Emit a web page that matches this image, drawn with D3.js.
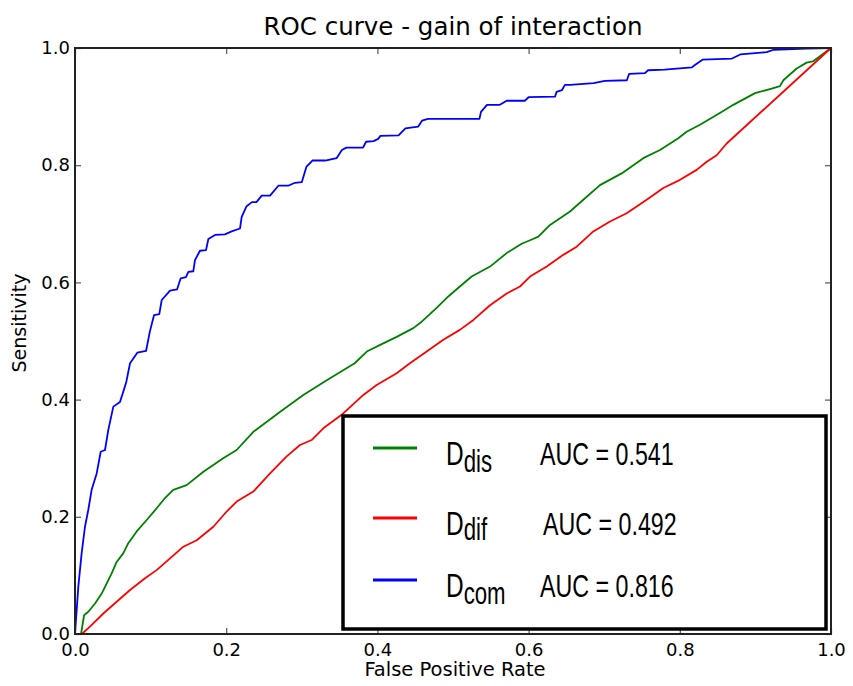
<!DOCTYPE html>
<html>
<head>
<meta charset="utf-8">
<script src="https://cdn.jsdelivr.net/npm/d3@7"></script>
<style>
    body { margin: 0; background: #fff; }
    #roc-chart { width: 853px; height: 686px; }
    text { font-family: "DejaVu Sans", sans-serif; fill: #000; }
    .legend-text { font-family: "Liberation Sans", Arial, sans-serif; }
</style>
</head>
<body>
<div id="roc-chart"></div>
<script>

// D_com (blue)
let comFpr = [0, 0.0044, 0.0088, 0.0132, 0.0176, 0.022, 0.0287, 0.034, 0.0397, 0.044, 0.0507, 0.0595, 0.064, 0.068,
    0.0728, 0.0824, 0.094, 0.099, 0.1045, 0.1115, 0.1147, 0.1257, 0.135, 0.1398, 0.1468, 0.1499, 0.1565, 0.1587,
    0.1653, 0.1733, 0.1764, 0.1852, 0.1984, 0.2072, 0.2183, 0.2205, 0.227, 0.234, 0.240, 0.247, 0.258, 0.269, 0.282,
    0.291, 0.300, 0.306, 0.314, 0.331, 0.346, 0.353, 0.359, 0.381, 0.385, 0.395, 0.401, 0.404, 0.428, 0.437, 0.454,
    0.459, 0.467, 0.535, 0.537, 0.545, 0.562, 0.571, 0.595, 0.600, 0.635, 0.637, 0.644, 0.648, 0.655, 0.686, 0.701,
    0.730, 0.733, 0.754, 0.758, 0.780, 0.816, 0.820, 0.830, 0.849, 0.869, 0.880, 0.915, 0.924, 0.968, 1];
let comTpr = [0, 0.081, 0.138, 0.183, 0.212, 0.246, 0.274, 0.311, 0.314, 0.348, 0.388, 0.396, 0.414, 0.431,
    0.462, 0.480, 0.483, 0.516, 0.544, 0.546, 0.570, 0.586, 0.588, 0.607, 0.609, 0.618, 0.619, 0.638,
    0.654, 0.655, 0.674, 0.681, 0.682, 0.687, 0.692, 0.712, 0.730, 0.737, 0.737, 0.748, 0.748, 0.765, 0.765,
    0.770, 0.771, 0.797, 0.808, 0.808, 0.812, 0.826, 0.830, 0.830, 0.840, 0.841, 0.845, 0.850, 0.851, 0.863, 0.866,
    0.876, 0.879, 0.879, 0.891, 0.903, 0.903, 0.910, 0.910, 0.916, 0.917, 0.925, 0.928, 0.937, 0.937, 0.940, 0.944,
    0.945, 0.956, 0.957, 0.962, 0.963, 0.967, 0.971, 0.980, 0.981, 0.982, 0.989, 0.993, 0.997, 0.999, 1];

// D_dis (green)
let disFpr = [0, 0.008, 0.012, 0.0176, 0.0265, 0.0353, 0.042, 0.0485, 0.0551, 0.064, 0.0705, 0.0816, 0.0948, 0.108,
    0.119, 0.130, 0.1477, 0.1698, 0.196, 0.2138, 0.2359, 0.271, 0.302, 0.333, 0.370, 0.386, 0.403, 0.4255, 0.4475,
    0.4586, 0.478, 0.4938, 0.509, 0.5247, 0.549, 0.571, 0.5908, 0.6019, 0.6129, 0.6283, 0.6548, 0.6724, 0.6944,
    0.7231, 0.7517, 0.7738, 0.798, 0.809, 0.8267, 0.853, 0.8708, 0.8995, 0.9193, 0.9325, 0.937, 0.9546, 0.9678,
    0.976, 1];
let disTpr = [0, 0, 0.032, 0.038, 0.052, 0.069, 0.0865, 0.1035, 0.123, 0.138, 0.155, 0.175, 0.1945, 0.2145,
    0.232, 0.246, 0.254, 0.277, 0.300, 0.314, 0.345, 0.379, 0.408, 0.433, 0.462, 0.482, 0.493, 0.507, 0.522,
    0.533, 0.556, 0.576, 0.593, 0.610, 0.627, 0.650, 0.666, 0.672, 0.678, 0.698, 0.721, 0.741, 0.766,
    0.786, 0.812, 0.826, 0.846, 0.857, 0.869, 0.889, 0.903, 0.923, 0.930, 0.935, 0.945, 0.965, 0.975,
    0.977, 1];

// D_dif (red)
let difFpr = [0, 0.009, 0.0198, 0.0375, 0.0551, 0.0728, 0.0926, 0.108, 0.1257, 0.1433, 0.161, 0.183, 0.2006, 0.2139,
    0.2359, 0.258, 0.280, 0.2976, 0.313, 0.3284, 0.3527, 0.3814, 0.399, 0.4255, 0.443, 0.4652, 0.4872, 0.509, 0.527,
    0.549, 0.571, 0.5886, 0.6019, 0.624, 0.6459, 0.6636, 0.6856, 0.7077, 0.7297, 0.7562, 0.7782, 0.8003, 0.8223,
    0.8356, 0.8488, 0.862, 1];
let difTpr = [0, 0, 0.0125, 0.035, 0.055, 0.075, 0.095, 0.109, 0.129, 0.149, 0.160, 0.183, 0.209, 0.226,
    0.243, 0.274, 0.303, 0.3225, 0.331, 0.351, 0.374, 0.408, 0.425, 0.445, 0.462, 0.482, 0.502, 0.519, 0.536,
    0.561, 0.581, 0.593, 0.610, 0.627, 0.647, 0.661, 0.687, 0.704, 0.718, 0.741, 0.761, 0.775, 0.792,
    0.806, 0.817, 0.837, 1];

let seriesNames = ["dis", "dif", "com"];
let seriesAuc = ["AUC = 0.541", "AUC = 0.492", "AUC = 0.816"];
let seriesColors = ["#008000", "#ff0000", "#0000ff"];
let tickValues = [0, 0.2, 0.4, 0.6, 0.8, 1.0];


class RocChart {

    constructor(parentElement) {
        this.parentElement = parentElement;
        this.initVis();
    }

    initVis() {
        let vis = this;

        vis.margin = {top: 48, right: 22, bottom: 52, left: 75};
        vis.width = 853 - vis.margin.left - vis.margin.right;
        vis.height = 686 - vis.margin.top - vis.margin.bottom;

        vis.root = d3.select("#" + vis.parentElement).append("svg")
            .attr("width", 853)
            .attr("height", 686);

        vis.svg = vis.root.append("g")
            .attr("transform", "translate(" + vis.margin.left + "," + vis.margin.top + ")");

        vis.x = d3.scaleLinear().domain([0, 1]).range([0, vis.width]);
        vis.y = d3.scaleLinear().domain([0, 1]).range([vis.height, 0]);

        // title + axis labels
        vis.root.append("text")
            .attr("x", 453)
            .attr("y", 35)
            .attr("text-anchor", "middle")
            .style("font-size", "24.5px")
            .text("ROC curve - gain of interaction");

        vis.root.append("text")
            .attr("x", 455)
            .attr("y", 676)
            .attr("text-anchor", "middle")
            .style("font-size", "19.5px")
            .text("False Positive Rate");

        vis.root.append("text")
            .attr("transform", "translate(26,323) rotate(-90)")
            .attr("text-anchor", "middle")
            .style("font-size", "19px")
            .text("Sensitivity");

        vis.wrangleData();
    }

    wrangleData() {
        let vis = this;
        let fprs = [disFpr, difFpr, comFpr];
        let tprs = [disTpr, difTpr, comTpr];

        vis.displayData = seriesNames.map((name, i) => ({
            name: name,
            auc: seriesAuc[i],
            color: seriesColors[i],
            values: fprs[i].map((f, j) => ({fpr: f, tpr: tprs[i][j]}))
        }));

        vis.updateVis();
    }

    updateVis() {
        let vis = this;

        let line = d3.line()
            .x(d => vis.x(d.fpr))
            .y(d => vis.y(d.tpr));

        vis.svg.selectAll(".roc-line")
            .data(vis.displayData)
            .enter()
            .append("path")
            .attr("class", "roc-line")
            .attr("d", d => line(d.values))
            .attr("fill", "none")
            .attr("stroke", d => d.color)
            .attr("stroke-width", 1.8)
            .attr("stroke-linejoin", "round");

        // axes, matplotlib style: ticks inward on all four sides
        let tickFmt = d3.format(".1f");
        let xBottom = vis.svg.append("g")
            .attr("transform", "translate(0," + vis.height + ")")
            .call(d3.axisBottom(vis.x).tickValues(tickValues).tickFormat(tickFmt).tickSizeInner(-6).tickSizeOuter(0).tickPadding(9));
        let xTop = vis.svg.append("g")
            .call(d3.axisTop(vis.x).tickValues(tickValues).tickFormat("").tickSizeInner(-6).tickSizeOuter(0));
        let yLeft = vis.svg.append("g")
            .call(d3.axisLeft(vis.y).tickValues(tickValues).tickFormat(tickFmt).tickSizeInner(-6).tickSizeOuter(0).tickPadding(5));
        let yRight = vis.svg.append("g")
            .attr("transform", "translate(" + vis.width + ",0)")
            .call(d3.axisRight(vis.y).tickValues(tickValues).tickFormat("").tickSizeInner(-6).tickSizeOuter(0));

        [xBottom, xTop, yLeft, yRight].forEach(g => {
            g.select(".domain").remove();
            g.selectAll(".tick line").attr("stroke", "#555").attr("stroke-width", 1.2);
            g.selectAll(".tick text")
                .style("font-family", "DejaVu Sans, sans-serif")
                .style("font-size", "18px")
                .attr("fill", "#000");
        });
        xBottom.selectAll(".tick text").attr("dy", "0.71em");

        vis.svg.append("rect")
            .attr("width", vis.width)
            .attr("height", vis.height)
            .attr("fill", "none")
            .attr("stroke", "#222")
            .attr("stroke-width", 2);

        // legend box
        let legend = vis.root.append("g").attr("class", "legend");
        legend.append("rect")
            .attr("x", 343)
            .attr("y", 416)
            .attr("width", 483)
            .attr("height", 213)
            .attr("fill", "#fff")
            .attr("stroke", "#000")
            .attr("stroke-width", 3.5);

        let rowY = [465, 535, 597];
        let aucX = [540, 543, 540];
        let subDy = [7, 5, 7];

        let rows = legend.selectAll(".legend-row")
            .data(vis.displayData)
            .enter()
            .append("g")
            .attr("class", "legend-row");

        rows.append("line")
            .attr("x1", 373)
            .attr("x2", 417)
            .attr("y1", (d, i) => rowY[i] - 17)
            .attr("y2", (d, i) => rowY[i] - 17)
            .attr("stroke", d => d.color)
            .attr("stroke-width", 3);

        let label = rows.append("g")
            .attr("transform", (d, i) => "translate(446," + rowY[i] + ") scale(0.74,1.03)")
            .append("text")
            .attr("class", "legend-text")
            .style("font-size", "33px");
        label.append("tspan").text("D");
        label.append("tspan")
            .attr("dy", (d, i) => subDy[i])
            .style("font-size", "30px")
            .text(d => d.name);

        rows.append("g")
            .attr("transform", (d, i) => "translate(" + aucX[i] + "," + rowY[i] + ") scale(0.75,1.03)")
            .append("text")
            .attr("class", "legend-text")
            .style("font-size", "31px")
            .text(d => d.auc);
    }
}

new RocChart("roc-chart");

</script>
</body>
</html>
